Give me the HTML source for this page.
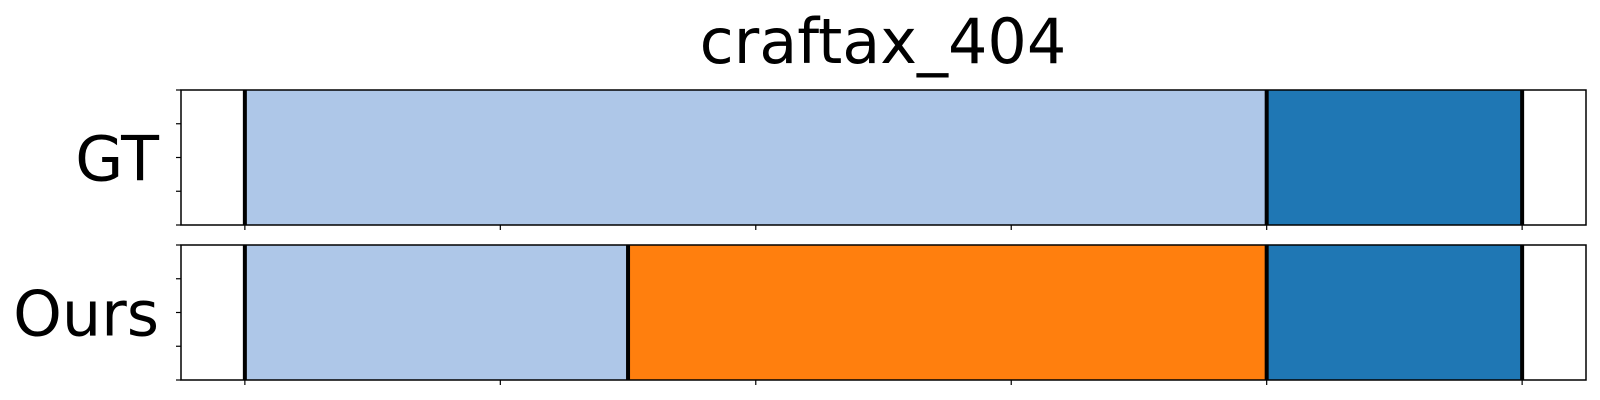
<!DOCTYPE html>
<html><head><meta charset="utf-8"><style>
html,body{margin:0;padding:0;background:#fff;}
svg{display:block;font-family:"DejaVu Sans","Liberation Sans",sans-serif;}
</style></head><body>
<svg id="chart" width="1600" height="400" viewBox="0 0 1600 400" xmlns="http://www.w3.org/2000/svg">
<text x="883" y="63" font-size="62" text-anchor="middle">craftax_404</text>
<g id="plots"></g>
</svg>
<script>
const rowLabels = ["GT", "Ours"];
const gtBounds = [0, 4, 5];
const gtColors = ["#aec7e8", "#1f77b4"];
const oursBounds = [0, 1.5, 4, 5];
const oursColors = ["#aec7e8", "#ff7f0e", "#1f77b4"];
const xTicks = [0, 1, 2, 3, 4, 5];
const yTicks = [0, 0.25, 0.5, 0.75, 1];

const NS = "http://www.w3.org/2000/svg";
const g = document.getElementById("plots");
const L = 181, R = 1586, xMin = -0.25, xMax = 5.25;
const X = v => L + (v - xMin) / (xMax - xMin) * (R - L);
const tops = [90, 245], H = 135;
function mk(tag, attrs, parent) {
  const e = document.createElementNS(NS, tag);
  for (const k in attrs) e.setAttribute(k, attrs[k]);
  (parent || g).appendChild(e);
  return e;
}
const rows = [[gtBounds, gtColors], [oursBounds, oursColors]];
rows.forEach((row, r) => {
  const [b, c] = row;
  const top = tops[r];
  const Y = v => top + H - v * H;
  const grp = mk("g", {});
  
  
  for (let i = 0; i < c.length; i++) {
    const s = mk("rect", {x: X(b[i]), y: top, width: X(b[i+1]) - X(b[i]), height: H, fill: c[i]}, grp);
    
    
  }
  b.forEach(v => {
    const l = mk("line", {x1: X(v), x2: X(v), y1: top, y2: top + H, stroke: "#000", "stroke-width": 4}, grp);
    
    
  });
  const fr = mk("rect", {x: L, y: top, width: R - L, height: H, fill: "none", stroke: "#000", "stroke-width": 1.5}, grp);
  
  
  yTicks.forEach(v => {
    const t = mk("line", {x1: L - 5, x2: L, y1: Y(v), y2: Y(v), stroke: "#000", "stroke-width": 1.2}, grp);
    
    
  });
  xTicks.forEach(v => {
    const t = mk("line", {x1: X(v), x2: X(v), y1: top + H, y2: top + H + 5, stroke: "#000", "stroke-width": 1.2}, grp);
    
    
  });
  const lab = mk("text", {x: 159, y: top + H / 2 + 23, "font-size": 62, "text-anchor": "end"}, grp);
  lab.textContent = rowLabels[r];
  
  
});
</script>
</body></html>
